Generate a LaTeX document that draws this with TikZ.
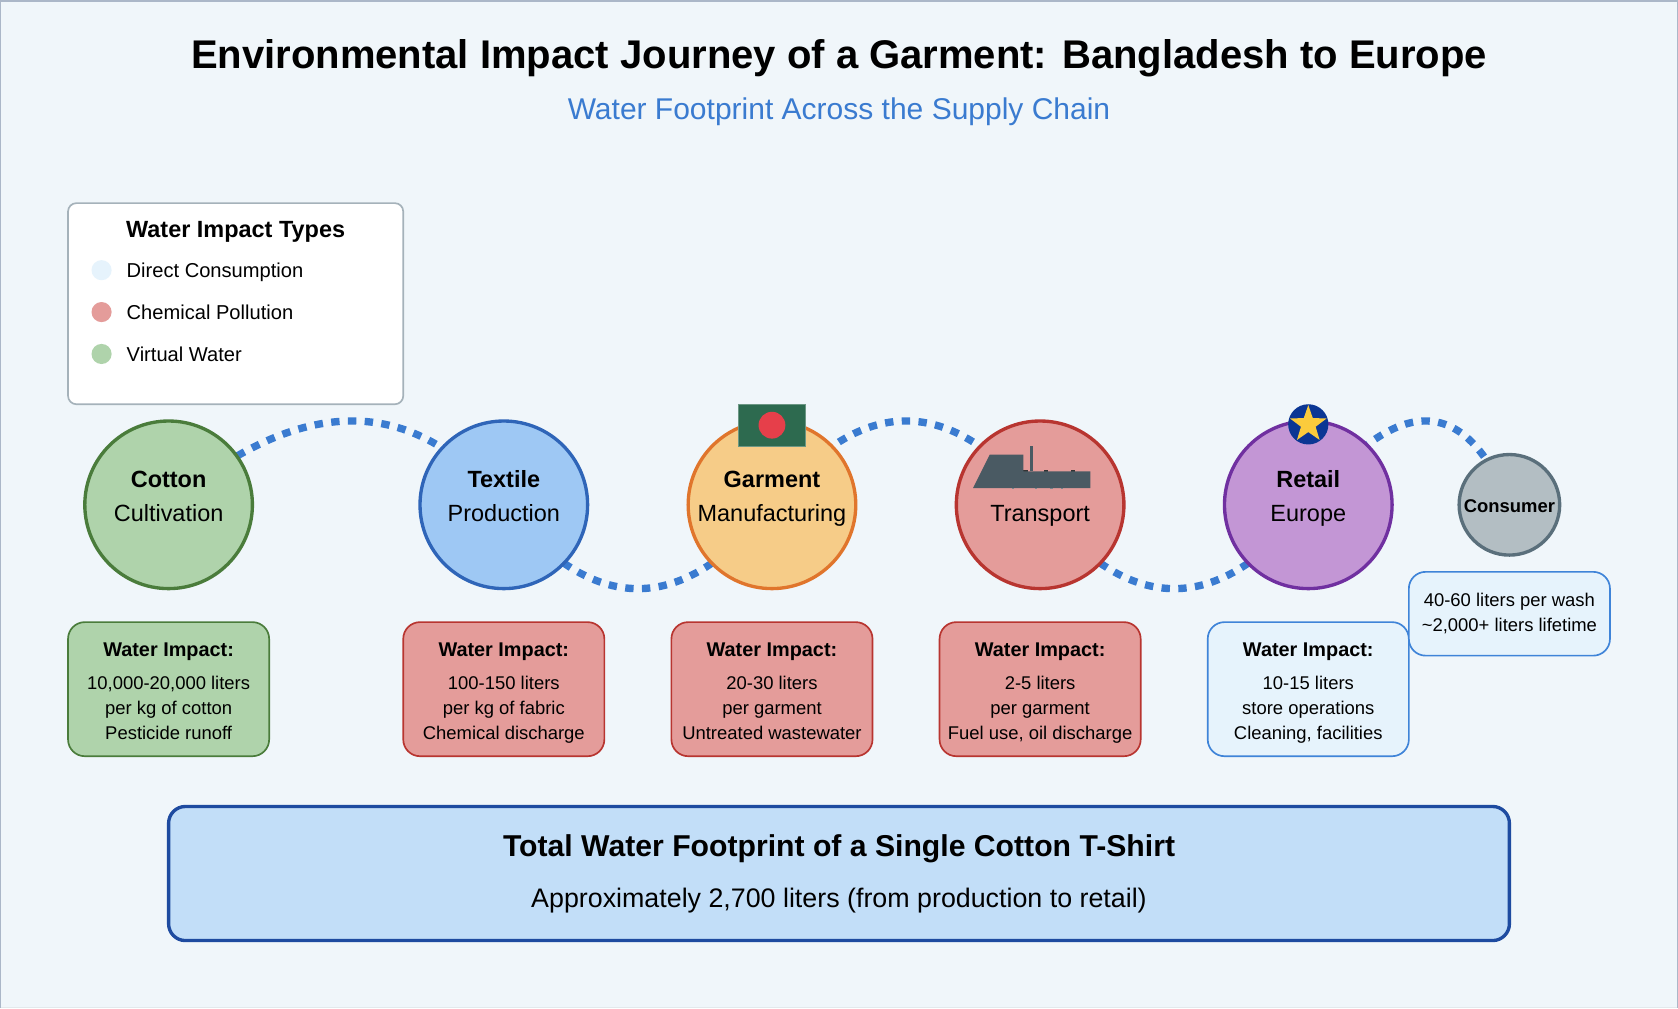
\documentclass[tikz,border=0pt]{standalone}
\usepackage{fontspec}
\setmainfont{Liberation Sans}
\usetikzlibrary{shapes.geometric}
\pgfdeclarelayer{bg}
\pgfsetlayers{bg,main}
\definecolor{pagebg}{HTML}{F0F6FA}
\definecolor{pageedge}{HTML}{ABB7C8}
\definecolor{pagefoot}{HTML}{E3E9EC}
\definecolor{flowblue}{HTML}{3A7BD0}
\definecolor{greenfill}{HTML}{AFD3AB}
\definecolor{greenedge}{HTML}{4A7C3B}
\definecolor{bluefill}{HTML}{9EC8F4}
\definecolor{blueedge}{HTML}{2F65B8}
\definecolor{orangefill}{HTML}{F6CC88}
\definecolor{orangeedge}{HTML}{E0752C}
\definecolor{redfill}{HTML}{E49C9A}
\definecolor{rededge}{HTML}{B83530}
\definecolor{purplefill}{HTML}{C396D5}
\definecolor{purpleedge}{HTML}{7030A0}
\definecolor{greyfill}{HTML}{B3BEC3}
\definecolor{greyedge}{HTML}{5A6F7B}
\definecolor{palefill}{HTML}{E6F3FC}
\definecolor{paleedge}{HTML}{3F84D8}
\definecolor{totalfill}{HTML}{C2DEF8}
\definecolor{totaledge}{HTML}{1E4BA0}
\definecolor{legendedge}{HTML}{A5B2BA}
\definecolor{flaggreen}{HTML}{2D6A4F}
\definecolor{flagred}{HTML}{E63F4A}
\definecolor{eublue}{HTML}{0B3694}
\definecolor{eustar}{HTML}{FBCB3C}
\definecolor{shipgrey}{HTML}{4A5A63}
\newcommand{\fsz}[1]{\fontsize{#1}{#1}\selectfont}
\tikzset{
  stage/.style={circle,draw,line width=2pt,minimum size=100pt,inner sep=0pt},
  smallstage/.style={circle,draw,line width=2pt,minimum size=60pt,inner sep=0pt},
  impactbox/.style={rectangle,rounded corners=10pt,draw,line width=1pt,minimum width=120pt,minimum height=80pt,inner sep=0pt},
  flow/.style={draw=flowblue,line width=4.4pt,dash pattern=on 5pt off 5pt},
  txt/.style={anchor=base,inner sep=0pt,outer sep=0pt,text=black},
  stagehead/.style={txt,font=\fsz{14}\bfseries},
  stagesub/.style={txt,font=\fsz{14}},
  boxhead/.style={txt,font=\fsz{11.85}\bfseries},
  boxline/.style={txt,font=\fsz{11}},
  legendline/.style={txt,anchor=base west,font=\fsz{12}},
  legenddot/.style={circle,minimum size=12pt,inner sep=0pt},
}
\begin{document}
\begin{tikzpicture}[x=1pt,y=1pt]
\useasboundingbox (-0.6,1.2) rectangle (1000.6,-600.24);
\begin{pgfonlayer}{bg}
\fill[pagebg] (-0.6,1.2) rectangle (1000.6,-600.24);
\fill[pagefoot] (-0.6,-599.4) rectangle (1000.6,-600.24);
\fill[pageedge] (-0.6,1.2) rectangle (1000.6,0);
\fill[pageedge] (-0.6,1.2) rectangle (0,-600.24);
\fill[pageedge] (1000,1.2) rectangle (1000.6,-600.24);
\end{pgfonlayer}
% titles
\node[txt,font=\fsz{23.88}\bfseries] (title) at (500,-39.6) {Environmental Impact Journey of a Garment: Bangladesh to Europe};
\node[txt,font=\fsz{17.9},text=flowblue] (subtitle) at (500,-70.3) {Water Footprint Across the Supply Chain};
% legend
\node[rectangle,rounded corners=5pt,draw=legendedge,fill=white,line width=1pt,minimum width=200pt,minimum height=120pt,inner sep=0pt] (legend) at (140,-180) {};
\node[txt,font=\fsz{14}\bfseries] (legendtitle) at (140,-140.5) {Water Impact Types};
\node[legenddot,fill=palefill] (dotdirect) at (60,-160) {};
\node[legendline] (lgdirect) at (75,-164.3) {Direct Consumption};
\node[legenddot,fill=redfill] (dotchem) at (60,-185) {};
\node[legendline] (lgchem) at (75,-189.3) {Chemical Pollution};
\node[legenddot,fill=greenfill] (dotvirt) at (60,-210) {};
\node[legendline] (lgvirt) at (75,-214.3) {Virtual Water};
% stages
\node[stage,fill=greenfill,draw=greenedge] (cotton) at (100,-300) {};
\node[stage,fill=bluefill,draw=blueedge] (textile) at (300,-300) {};
\node[stage,fill=orangefill,draw=orangeedge] (garment) at (460,-300) {};
\node[stage,fill=redfill,draw=rededge] (transport) at (620,-300) {};
\node[stage,fill=purplefill,draw=purpleedge] (retail) at (780,-300) {};
\node[smallstage,fill=greyfill,draw=greyedge] (consumer) at (900,-300) {};
\begin{pgfonlayer}{bg}
\draw[flow,dash phase=9.7pt] (cotton.center) .. controls (179.3,-233.3) and (246,-233.3) .. (textile.center);
\draw[flow] (textile.center) .. controls (353.3,-366.7) and (406.7,-366.7) .. (garment.center);
\draw[flow,dash phase=5pt] (garment.center) .. controls (513.3,-233.3) and (566.7,-233.3) .. (transport.center);
\draw[flow] (transport.center) .. controls (673.3,-366.7) and (726.7,-366.7) .. (retail.center);
\draw[flow,dash phase=3.9pt] (retail.center) .. controls (833.3,-233.3) and (873.3,-233.3) .. (consumer.center);
\end{pgfonlayer}
% flag
\node[rectangle,fill=flaggreen,draw=flaggreen!70!white,line width=0.5pt,minimum width=40pt,minimum height=25pt,inner sep=0pt] (flag) at (460,-252.5) {};
\node[circle,fill=flagred,minimum size=16pt,inner sep=0pt] (flagdisc) at (460,-252.5) {};
% ship
\fill[black!80] (610,-279.4) rectangle (612.5,-280.2);
\fill[black!80] (622.4,-279.4) rectangle (624.9,-280.2);
\fill[black!80] (638.5,-279.4) rectangle (641,-280.2);
\fill[shipgrey!70] (603,-290) rectangle (604.4,-290.6);
\fill[shipgrey!70] (617,-290) rectangle (618.4,-290.6);
\fill[shipgrey!70] (626,-290) rectangle (627.4,-290.6);
\fill[shipgrey!70] (632.4,-290) rectangle (633.8,-290.6);
\fill[shipgrey] (580,-290) -- (650,-290) -- (650,-280) -- (610,-280) -- (610,-270) -- (590,-270) -- cycle;
\fill[shipgrey] (614,-265) rectangle (616,-280);
% EU badge
\node[circle,fill=eublue,minimum size=24pt,inner sep=0pt] (badge) at (780,-252) {};
\node[star,star points=5,star point ratio=2.5,fill=eustar,minimum size=23pt,inner sep=0pt] (eustarnode) at (780,-252) {};
% stage labels
\node[stagehead] (t1a) at (100,-289.7) {Cotton};
\node[stagesub] (t1b) at (100,-310.2) {Cultivation};
\node[stagehead] (t2a) at (300,-289.7) {Textile};
\node[stagesub] (t2b) at (300,-310.2) {Production};
\node[stagehead] (t3a) at (460,-289.7) {Garment};
\node[stagesub] (t3b) at (460,-310.2) {Manufacturing};
\node[stagesub] (t4b) at (620,-310.2) {Transport};
\node[stagehead] (t5a) at (780,-289.7) {Retail};
\node[stagesub] (t5b) at (780,-310.2) {Europe};
\node[txt,font=\fsz{11}\bfseries] (t6a) at (900,-304.4) {Consumer};
% impact boxes
\node[impactbox,fill=greenfill,draw=greenedge] (b1) at (100,-410) {};
\node[boxhead] (b1a) at (100,-390.3) {Water Impact:};
\node[boxline] (b1b) at (100,-410) {10,000-20,000 liters};
\node[boxline] (b1c) at (100,-425) {per kg of cotton};
\node[boxline] (b1d) at (100,-440) {Pesticide runoff};
\node[impactbox,fill=redfill,draw=rededge] (b2) at (300,-410) {};
\node[boxhead] (b2a) at (300,-390.3) {Water Impact:};
\node[boxline] (b2b) at (300,-410) {100-150 liters};
\node[boxline] (b2c) at (300,-425) {per kg of fabric};
\node[boxline] (b2d) at (300,-440) {Chemical discharge};
\node[impactbox,fill=redfill,draw=rededge] (b3) at (460,-410) {};
\node[boxhead] (b3a) at (460,-390.3) {Water Impact:};
\node[boxline] (b3b) at (460,-410) {20-30 liters};
\node[boxline] (b3c) at (460,-425) {per garment};
\node[boxline] (b3d) at (460,-440) {Untreated wastewater};
\node[impactbox,fill=redfill,draw=rededge] (b4) at (620,-410) {};
\node[boxhead] (b4a) at (620,-390.3) {Water Impact:};
\node[boxline] (b4b) at (620,-410) {2-5 liters};
\node[boxline] (b4c) at (620,-425) {per garment};
\node[boxline] (b4d) at (620,-440) {Fuel use, oil discharge};
\node[impactbox,fill=palefill,draw=paleedge] (b5) at (780,-410) {};
\node[boxhead] (b5a) at (780,-390.3) {Water Impact:};
\node[boxline] (b5b) at (780,-410) {10-15 liters};
\node[boxline] (b5c) at (780,-425) {store operations};
\node[boxline] (b5d) at (780,-440) {Cleaning, facilities};
\node[impactbox,minimum height=50pt,fill=palefill,draw=paleedge] (b6) at (900,-365) {};
\node[boxline] (b6a) at (900,-360.5) {40-60 liters per wash};
\node[boxline] (b6b) at (900,-375.5) {\textasciitilde 2,000+ liters lifetime};
% total
\node[rectangle,rounded corners=10pt,draw=totaledge,fill=totalfill,line width=2pt,minimum width=800pt,minimum height=80pt,inner sep=0pt] (total) at (500,-520) {};
\node[txt,font=\fsz{18}\bfseries] (totala) at (500,-510) {Total Water Footprint of a Single Cotton T-Shirt};
\node[txt,font=\fsz{16}] (totalb) at (500,-540) {Approximately 2,700 liters (from production to retail)};
\end{tikzpicture}
\end{document}
